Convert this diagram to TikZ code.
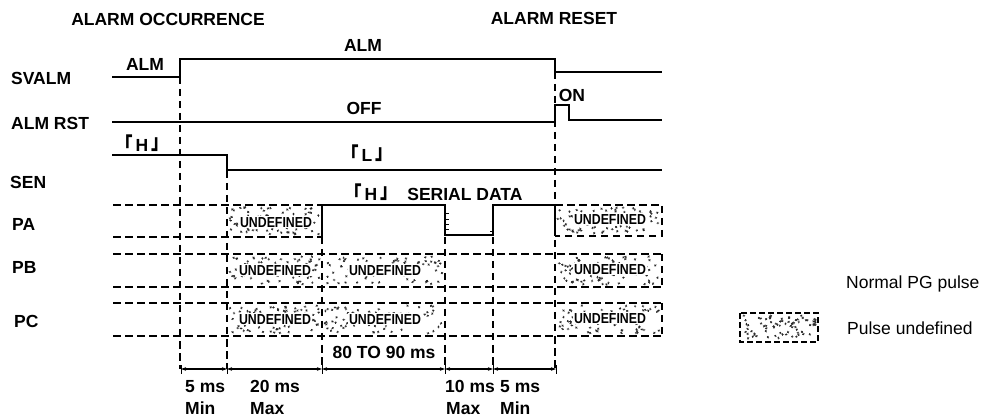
\documentclass[tikz,border=0pt]{standalone}
\usepackage{fontspec}
\setmainfont{Liberation Sans}
\newfontfamily\cjk{Noto Sans CJK JP}
\usetikzlibrary{arrows.meta}
\newcommand\stipplebox[4]{%
  \foreach \k in {1,...,75}{%
    \pgfmathsetmacro\sx{#1+2.5+rnd*(#3-#1-5)}%
    \pgfmathsetmacro\sy{#2+2.5+rnd*(#4-#2-5)}%
    \pgfmathsetmacro\sa{rnd*180}%
    \draw[stip] (\sx,\sy) ++(\sa:-1.3pt) -- ++(\sa:2.6pt);
    \draw[stip] (\sx,\sy) ++(\sa+90:-1.1pt) -- ++(\sa+90:2.2pt);
  }%
}
\newcommand\lbr{\raisebox{-2.2pt}{\scalebox{1}[1.25]{\cjk 「}}}
\newcommand\rbr{\raisebox{2.2pt}{\scalebox{1}[1.25]{\cjk 」}}}
\begin{document}
\begin{tikzpicture}[x=1pt,y=-1pt,
  sig/.style={line width=1.9pt},
  dsh/.style={line width=1.2pt, dash pattern=on 7.5pt off 4.5pt},
  stip/.style={line width=0.7pt, black!85},
  lbl/.style={font=\bfseries\fontsize{17.5}{20}\selectfont, inner sep=0pt, text height=12.5pt, text depth=0pt},
  und/.style={font=\bfseries\fontsize{14.5}{16}\selectfont, inner sep=1.2pt, fill=white, text height=10.4pt, text depth=0pt},
  dimtip/.style={{Stealth[length=5pt,width=3.5pt]}-{Stealth[length=5pt,width=3.5pt]}},
]
\useasboundingbox (0,0) rectangle (990,419);
\pgfmathsetseed{4242}

% titles
\node[lbl] (occ) at (168,19) {ALARM OCCURRENCE};
\node[lbl] (rst) at (554,18) {ALARM RESET};

% row labels
\node[lbl, anchor=west] (lsvalm) at (11,78) {SVALM};
\node[lbl, anchor=west] (lalmrst) at (11,123) {ALM RST};
\node[lbl, anchor=west] (lsen) at (10,182) {SEN};
\node[lbl, anchor=west] (lpa) at (12,224) {PA};
\node[lbl, anchor=west] (lpb) at (12,267) {PB};
\node[lbl, anchor=west] (lpc) at (14,321) {PC};

% vertical dashed time lines
\draw[dsh] (180,77) -- (180,369);
\draw[dsh] (227,171) -- (227,369);
\draw[dsh] (322,237) -- (322,369);
\draw[dsh] (445,237) -- (445,369);
\draw[dsh] (493,237) -- (493,369);
\draw[dsh] (555,72) -- (555,369);

% horizontal dashed lanes
\draw[dsh] (113,205) -- (322,205);
\draw[dsh] (113,237) -- (322,237);
\draw[dsh] (555,205) -- (662,205) -- (662,236) -- (555,236);
\draw[dsh] (113,254) -- (662,254);
\draw[dsh] (113,287) -- (662,287);
\draw[dsh] (662,254) -- (662,287);
\draw[dsh] (113,303) -- (662,303);
\draw[dsh] (113,336) -- (662,336);
\draw[dsh] (662,303) -- (662,336);

% undefined areas
\stipplebox{227}{205}{322}{237}
\stipplebox{227}{254}{322}{287}
\stipplebox{322}{254}{445}{287}
\stipplebox{227}{303}{322}{336}
\stipplebox{322}{303}{445}{336}
\stipplebox{555}{205}{662}{236}
\stipplebox{555}{254}{662}{287}
\stipplebox{555}{303}{662}{336}
\node[und] (ua1) at (276,222) {\scalebox{0.85}[1]{UNDEFINED}};
\node[und] (ub1) at (275,270) {\scalebox{0.85}[1]{UNDEFINED}};
\node[und] (ub2) at (385,270) {\scalebox{0.85}[1]{UNDEFINED}};
\node[und] (uc1) at (275,319) {\scalebox{0.85}[1]{UNDEFINED}};
\node[und] (uc2) at (385,319) {\scalebox{0.85}[1]{UNDEFINED}};
\node[und] (ua3) at (610,219) {\scalebox{0.85}[1]{UNDEFINED}};
\node[und] (ub3) at (610,269) {\scalebox{0.85}[1]{UNDEFINED}};
\node[und] (uc3) at (610,318) {\scalebox{0.85}[1]{UNDEFINED}};

% signals
\draw[sig] (112,77) -- (180,77) -- (180,59) -- (555,59) -- (555,72) -- (662,72);
\draw[sig] (112,122) -- (555,122) -- (555,105) -- (569,105) -- (569,120) -- (662,120);
\draw[sig] (112,155) -- (227,155) -- (227,170) -- (662,170);
\draw[sig] (322,237) -- (322,205) -- (445,205) -- (445,235) -- (493,235) -- (493,205) -- (555,205) -- (555,236);
\foreach \ty in {213,219,224,229}{\draw[line width=0.9pt] (445,\ty) -- (448.5,\ty);}
\draw[line width=0.9pt] (493,231) -- (489.5,231);

% signal texts
\node[lbl] (alm1) at (145,64) {ALM};
\node[lbl] (alm2) at (363,45) {ALM};
\node[lbl] (on) at (572,95) {ON};
\node[lbl] (off) at (364,108) {OFF};
\node[lbl] (h1) at (142,145) {\lbr\,H\,\rbr};
\node[lbl] (l1) at (367,155) {\lbr\,L\,\rbr};
\node[lbl, anchor=west] (h2) at (344,194) {\lbr\,H\,\rbr\ \ SERIAL DATA};
\node[lbl] (r8090) at (384,352) {80 TO 90 ms};

% dimension line
\foreach \n/\tx in {d0/181,d1/227,d2/322,d3/445,d4/493,d5/556}{
  \coordinate (\n) at (\tx,369);
  \draw[line width=1pt] (\tx,365) -- (\tx,374);
}
\draw[line width=1.3pt, dimtip] (d0) -- (d1);
\draw[line width=1.3pt, dimtip] (d1) -- (d2);
\draw[line width=1.3pt, dimtip] (d2) -- (d3);
\draw[line width=1.3pt, dimtip] (d3) -- (d4);
\draw[line width=1.3pt, dimtip] (d4) -- (d5);

\node[lbl, anchor=west] (m1a) at (185,386) {5 ms};
\node[lbl, anchor=west] (m1b) at (185,408) {Min};
\node[lbl, anchor=west] (m2a) at (250,386) {20 ms};
\node[lbl, anchor=west] (m2b) at (250,408) {Max};
\node[lbl, anchor=west] (m3a) at (445,386) {10 ms};
\node[lbl, anchor=west] (m3b) at (446,408) {Max};
\node[lbl, anchor=west] (m4a) at (500,386) {5 ms};
\node[lbl, anchor=west] (m4b) at (500,408) {Min};

% legend
\node[lbl, anchor=west, font=\fontsize{17.5}{20}\selectfont] (leg1) at (846,282) {Normal PG pulse};
\stipplebox{740}{313}{818}{342}
\draw[dsh, line width=1.2pt, dash pattern=on 6pt off 3pt] (740,313) rectangle (818,342);
\node[lbl, anchor=west, font=\fontsize{17.5}{20}\selectfont] (leg2) at (847,328) {Pulse undefined};
\end{tikzpicture}
\end{document}
